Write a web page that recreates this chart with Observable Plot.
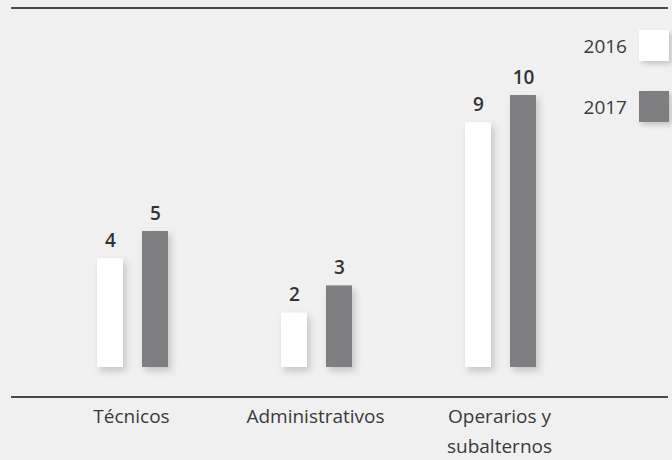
<!DOCTYPE html>
<html>
<head>
<meta charset="utf-8">
<script src="https://cdn.jsdelivr.net/npm/d3@7"></script>
<script src="https://cdn.jsdelivr.net/npm/@observablehq/plot@0.6"></script>
<style>
  html, body { margin: 0; padding: 0; background: #f0f0f0; }
  #wrap { position: relative; width: 672px; height: 460px; background: #f0f0f0; font-family: "Open Sans", sans-serif; color: #3a3a3a; }
  .hline { position: absolute; left: 11px; width: 657px; height: 2px; background: #4a4a4a; }
  .leg { position: absolute; right: 0; display: flex; align-items: center; font-size: 19px; font-weight: 400; color: #3a3a3a; }
  .leg .sw { width: 30px; height: 31px; margin-left: 12px; margin-right: 3px; box-shadow: 3px 3px 5px rgba(0,0,0,0.18); }
</style>
</head>
<body>
<div id="wrap"></div>
<script>
const categories = ["Técnicos", "Administrativos", "Operarios y subalternos"];
const tickLabels = ["Técnicos", "Administrativos", "Operarios y\nsubalternos"];
const years = ["2016", "2017"];
const values2016 = [4, 2, 9];
const values2017 = [5, 3, 10];
const yearColors = ["#ffffff", "#7f7f82"];

const data = [];
categories.forEach((c, i) => {
  data.push({category: c, year: years[0], value: values2016[i]});
  data.push({category: c, year: years[1], value: values2017[i]});
});

const chart = Plot.plot({
  width: 672,
  height: 460,
  marginTop: 0, marginRight: 0, marginBottom: 0, marginLeft: 0,
  style: {background: "transparent", fontFamily: "Open Sans, sans-serif", color: "#3a3a3a"},
  fx: {domain: categories, range: [38.5, 592], padding: 0, axis: null},
  x: {domain: years, range: [57.5, 130.5], paddingInner: 0.413, paddingOuter: 0, axis: null},
  y: {domain: [0, 10], range: [367, 95], axis: null},
  color: {domain: years, range: yearColors},
  marks: [
    Plot.barY(data, {fx: "category", x: "year", y: "value", fill: "year"}),
    Plot.text(data, {fx: "category", x: "year", y: "value", text: d => String(d.value),
      lineAnchor: "bottom", dy: -12, fontSize: 19, fontWeight: 600, fill: "#333"}),
    Plot.text(categories, {fx: d => d, text: (d, i) => tickLabels[i], frameAnchor: "top",
      lineAnchor: "top", dy: 401, fontSize: 19, fontWeight: 400, lineHeight: 1.58, fill: "#3a3a3a"})
  ]
});

// drop shadow for bars (styling)
const svg = d3.select(chart);
const defs = svg.insert("defs", ":first-child");
const f = defs.append("filter").attr("id", "sh").attr("x", "-30%").attr("y", "-10%").attr("width", "170%").attr("height", "130%");
f.append("feDropShadow").attr("dx", 3).attr("dy", 4).attr("stdDeviation", 3.5).attr("flood-color", "#000").attr("flood-opacity", 0.18);
svg.selectAll("g[aria-label='bar'] rect").attr("filter", "url(#sh)");

const wrap = document.getElementById("wrap");
wrap.appendChild(chart);
chart.style.position = "absolute";
chart.style.left = "0";
chart.style.top = "0";

const topLine = document.createElement("div");
topLine.className = "hline"; topLine.style.top = "7px";
wrap.appendChild(topLine);
const botLine = document.createElement("div");
botLine.className = "hline"; botLine.style.top = "396px";
wrap.appendChild(botLine);

const legTops = [30, 91];
years.forEach((y, i) => {
  const row = document.createElement("div");
  row.className = "leg";
  row.style.top = legTops[i] + "px";
  const t = document.createElement("span");
  t.textContent = y;
  const sw = document.createElement("span");
  sw.className = "sw";
  sw.style.background = yearColors[i];
  row.appendChild(t);
  row.appendChild(sw);
  wrap.appendChild(row);
});
</script>
</body>
</html>
